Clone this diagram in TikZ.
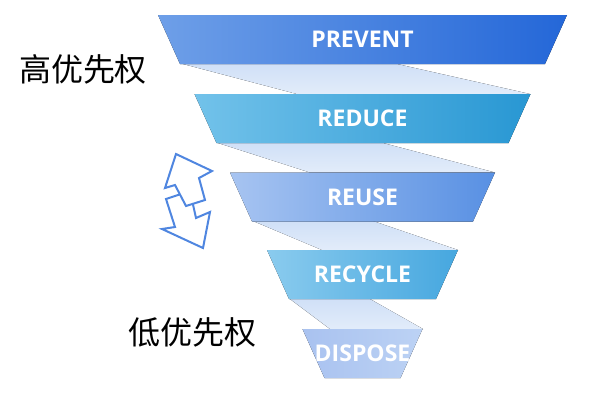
\documentclass[tikz,border=0pt]{standalone}
\usepackage{fontspec}
\usepackage{xcolor}
\usepackage{tikz}
\setsansfont{Open Sans}
\newfontfamily\cjkfont{Noto Sans CJK SC}
\usetikzlibrary{calc,positioning}

\definecolor{preL}{HTML}{6E9FE8}
\definecolor{preR}{HTML}{2467D8}
\definecolor{redL}{HTML}{72C2EA}
\definecolor{redR}{HTML}{2897D3}
\definecolor{reuL}{HTML}{A7C4F1}
\definecolor{reuR}{HTML}{5890E3}
\definecolor{recL}{HTML}{8ACBEE}
\definecolor{recR}{HTML}{46A7DF}
\definecolor{disL}{HTML}{A9C2F0}
\definecolor{disR}{HTML}{BCD2F4}
\definecolor{bandT}{HTML}{D0E0F7}
\definecolor{bandB}{HTML}{E2ECFA}
\definecolor{arrowblue}{HTML}{4F86E0}

\begin{document}
\begin{tikzpicture}[x=1pt,y=-1pt,
	level/.style={font=\sffamily\bfseries\fontsize{23}{23}\selectfont,text=white},
	prio/.style={font=\cjkfont\fontsize{32}{32}\selectfont,text=black},
	band/.style={top color=bandT,bottom color=bandB},
	swap/.style={draw=arrowblue,line width=2pt,fill=white}]
	\useasboundingbox (0,0) rectangle (594,400);
	% ribbons between the levels
	\foreach \ya/\xa/\xb/\yb/\xc/\xd in {64/183/397/94/297/530,143/218/383/172.5/310/495,221/253/373/250/322/458,299/290/370/329/330/423}
	\fill[band] (\xa,\ya) -- (\xb,\ya) -- (\xd,\yb) -- (\xc,\yb) -- cycle;
	% levels of the funnel
	\foreach \t/\w/\name/\txt/\cl/\cr in {15/204.5/prevent/PREVENT/preL/preR,94/168/reduce/REDUCE/redL/redR,172.5/132.5/reuse/REUSE/reuL/reuR,250/95.5/recycle/RECYCLE/recL/recR,329/60/dispose/DISPOSE/disL/disR}
	{
		\fill[left color=\cl,right color=\cr] ({362.5-\w},\t) -- ({362.5+\w},\t) -- ({362.5+\w-22},{\t+49}) -- ({362.5-\w+22},{\t+49}) -- cycle;
		\node[level] (\name) at (362.5,{\t+24.5}) {\txt};
	}
	\node[prio] (high) at (83,69) {高优先权};
	\node[prio] (low) at (192,332) {低优先权};
	% up and down arrows
	\draw[swap] (166,199) -- (190,191) -- (196,218) -- (210,212) -- (203,248) -- (162,229) -- (175,227) -- cycle;
	\draw[swap] (176,154) -- (212,171) -- (199,178) -- (205,200) -- (186,206) -- (175,185) -- (165,188) -- cycle;
\end{tikzpicture}
\end{document}
